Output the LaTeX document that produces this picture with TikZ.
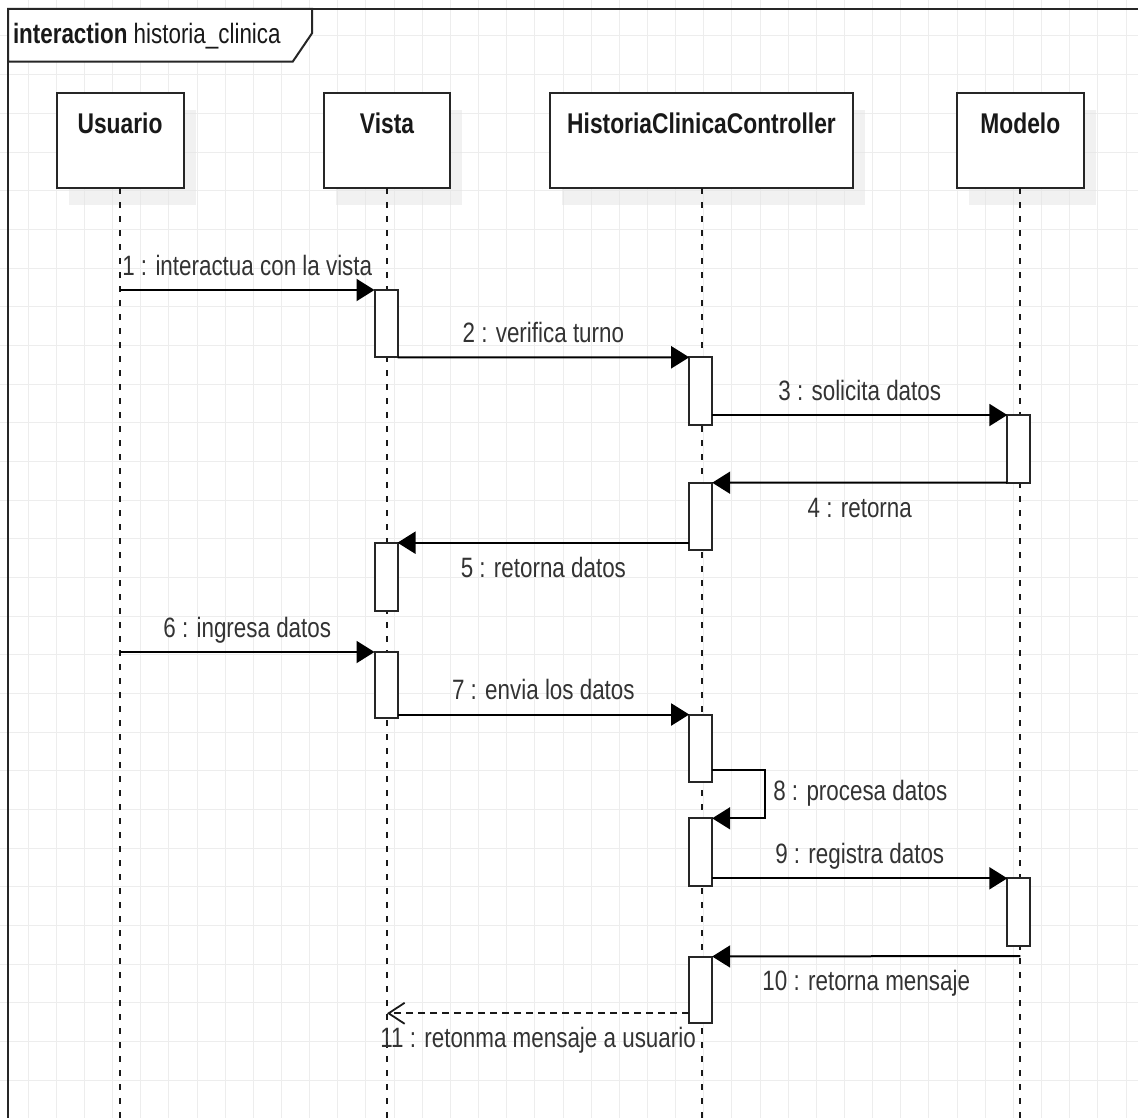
\documentclass[tikz,border=0pt]{standalone}
\usepackage{fontspec}
\setmainfont{Liberation Sans}[FakeStretch=0.8]
\usetikzlibrary{arrows.meta,shadows}
\begin{document}
\begin{tikzpicture}[x=1pt,y=-1pt,
  every node/.style={inner sep=0pt, outer sep=0pt},
  gridline/.style={draw=black!7, line width=1pt},
  stroke/.style={draw=black!85, line width=2pt},
  head/.style={stroke, fill=white, rectangle, minimum height=95pt,
    drop shadow={fill=black!10, opacity=0.5, shadow xshift=12pt, shadow yshift=-17pt}},
  headtext/.style={font=\fontsize{28.5}{32}\selectfont\bfseries, text=black!90, anchor=base},
  act/.style={stroke, fill=white, rectangle, minimum width=23pt, anchor=north},
  lifeline/.style={draw=black!90, line width=2pt, dash pattern=on 6pt off 8pt},
  msg/.style={draw=black, line width=2pt, -{Triangle[length=18pt,width=22pt]}},
  retmsg/.style={draw=black!90, line width=1.8pt, dash pattern=on 7pt off 5pt,
    -{Straight Barb[length=16pt,width=21pt,line width=1.8pt]}},
  lbl/.style={font=\fontsize{28}{32}\selectfont, text=black!80, anchor=base},
  above lbl/.style={lbl, midway, yshift=15pt},
  below lbl/.style={lbl, midway, yshift=-34.5pt},
]
\useasboundingbox (0,0) rectangle (1138,1118);
\clip (0,0) rectangle (1138,1118);
\fill[white] (0,0) rectangle (1138,1118);
% grid
\foreach \i in {1,...,40} \draw[gridline] (\i*28.15,0) -- (\i*28.15,1118);
\foreach \j in {1,...,29} \draw[gridline] (0,-2.67+\j*38.67) -- (1138,-2.67+\j*38.67);
% frame
\draw[stroke] (8,1130) -- (8,9) -- (1150,9);
\draw[stroke, fill=white] (8,9) -- (312,9) -- (312,33.3) -- (292.7,61.7) -- (8,61.7) -- cycle;
\node[lbl, anchor=base west, text=black!90] (hdr) at (13,43.3) {\textbf{interaction} historia\_clinica};
% heads
\node[head, minimum width=127pt] (hU) at (120,140.8) {};
\node[head, minimum width=126pt] (hV) at (387,140.8) {};
\node[head, minimum width=303pt] (hC) at (701.5,140.8) {};
\node[head, minimum width=127pt] (hM) at (1020.3,140.8) {};
\node[headtext] (tU) at (120,133.3) {Usuario};
\node[headtext] (tV) at (387,133.3) {Vista};
\node[headtext] (tC) at (701.5,133.3) {HistoriaClinicaController};
\node[headtext] (tM) at (1020.3,133.3) {Modelo};
% lifeline ends
\coordinate (eU) at (120,1118);
\coordinate (eV) at (387,1118);
\coordinate (eC) at (701.5,1118);
\coordinate (eM) at (1020.3,1118);
\draw[lifeline] (hU.south) -- (eU);
\draw[lifeline] (hV.south) -- (eV);
\draw[lifeline] (hC.south) -- (eC);
\draw[lifeline] (hM.south) -- (eM);
% activations
\node[act, minimum height=67.3pt] (aV1) at (386,290) {};
\node[act, minimum height=67.7pt] (aC1) at (700.7,357.3) {};
\node[act, minimum height=67.7pt] (aM1) at (1018.8,415) {};
\node[act, minimum height=67.3pt] (aC2) at (700.7,482.7) {};
\node[act, minimum height=67.8pt] (aV2) at (386,542.7) {};
\node[act, minimum height=66pt] (aV3) at (386,652) {};
\node[act, minimum height=67pt] (aC3) at (700.7,714.5) {};
\node[act, minimum height=67.7pt] (aC4) at (700.7,818.3) {};
\node[act, minimum height=67.7pt] (aM2) at (1018.8,878.3) {};
\node[act, minimum height=66.8pt] (aC5) at (700.7,956.5) {};
% message anchors
\coordinate (u1) at (120,290);
\coordinate (u6) at (120,652);
\coordinate (y8) at (0,770);
\coordinate (m10) at (1020.3,956);
\coordinate (y11) at (0,1013.3);
\coordinate (v11) at (387,1013.3);
% messages
\draw[msg] (u1) -- (aV1.north west) node[above lbl] (t1) {1 : interactua con la vista};
\draw[msg] (aV1.south east) -- (aC1.north west) node[above lbl] (t2) {2 : verifica turno};
\draw[msg] (aC1.east |- aM1.north) -- (aM1.north west) node[above lbl] (t3) {3 : solicita datos};
\draw[msg] (aM1.south west) -- (aC2.north east) node[below lbl] (t4) {4 : retorna};
\draw[msg] (aC2.west |- aV2.north) -- (aV2.north east) node[below lbl] (t5) {5 : retorna datos};
\draw[msg] (u6) -- (aV3.north west) node[above lbl] (t6) {6 : ingresa datos};
\draw[msg] (aV3.east |- aC3.north) -- (aC3.north west) node[above lbl] (t7) {7 : envia los datos};
\draw[msg] (aC3.east |- y8) -- ++(53,0) |- (aC4.north east);
\node[lbl, anchor=base west] (t8) at (773.3,800.7) {8 : procesa datos};
\draw[msg] (aC4.east |- aM2.north) -- (aM2.north west) node[above lbl] (t9) {9 : registra datos};
\draw[msg] (m10) -- (aC5.north east) node[below lbl] (t10) {10 : retorna mensaje};
\draw[retmsg] (aC5.west |- y11) -- (v11) node[below lbl] (t11) {11 : retonma mensaje a usuario};
\end{tikzpicture}
\end{document}
